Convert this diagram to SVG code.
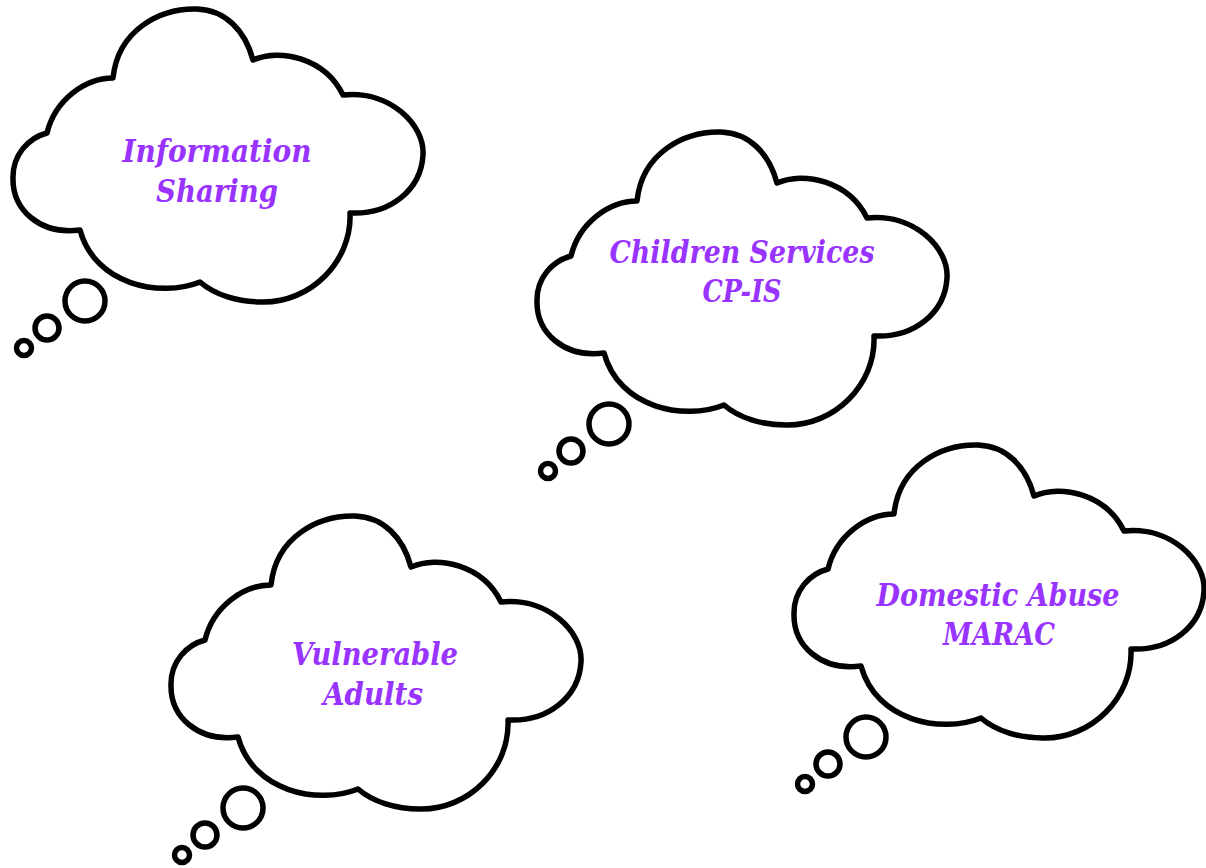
<svg xmlns="http://www.w3.org/2000/svg" width="1206" height="868" viewBox="0 0 1206 868">
<defs>
<style>
.cl{fill:#fff;stroke:#000;stroke-width:5.5;stroke-linejoin:round}
.bb{fill:none;stroke:#000;stroke-width:5.5}
.t{font-family:"DejaVu Serif",serif;font-weight:bold;font-style:italic;font-size:31px;fill:#9933ff;text-anchor:middle}
</style>
<g id="cloud">
<path class="cl" d="M113,78 C118,30 160,8 197,9 C225,10 245,30 253,60 C280,48 325,58 343,95 C390,90 425,125 423,155 C421,190 390,215 350,213 C352,262 310,303 262,302 C238,302 215,295 200,282 C160,298 95,285 80,230 C40,235 12,210 13,177 C13,155 28,138 47,133 C55,100 85,78 113,78 Z"/>
<circle class="bb" cx="85" cy="301" r="20"/>
<circle class="bb" cx="47" cy="328" r="12"/>
<circle class="bb" cx="24" cy="348" r="7.5"/>
</g>
</defs>
<rect width="1206" height="868" fill="#fff"/>
<g id="node-information-sharing">
<use href="#cloud"/>
<text class="t" x="217" y="162" textLength="189" lengthAdjust="spacingAndGlyphs">Information</text>
<text class="t" x="217" y="202" textLength="122" lengthAdjust="spacingAndGlyphs">Sharing</text>
</g>
<g id="node-children-services">
<use href="#cloud" transform="translate(524,123)"/>
<text class="t" x="742" y="263" textLength="265" lengthAdjust="spacingAndGlyphs">Children Services</text>
<text class="t" x="742" y="302" textLength="79" lengthAdjust="spacingAndGlyphs">CP-IS</text>
</g>
<g id="node-vulnerable-adults">
<use href="#cloud" transform="translate(158,507)"/>
<text class="t" x="375" y="665" textLength="166" lengthAdjust="spacingAndGlyphs">Vulnerable</text>
<text class="t" x="373" y="705" textLength="100" lengthAdjust="spacingAndGlyphs">Adults</text>
</g>
<g id="node-domestic-abuse">
<use href="#cloud" transform="translate(781,436)"/>
<text class="t" x="998" y="606" textLength="243" lengthAdjust="spacingAndGlyphs">Domestic Abuse</text>
<text class="t" x="999" y="645" textLength="112" lengthAdjust="spacingAndGlyphs">MARAC</text>
</g>
<g id="connectors"></g>
</svg>
